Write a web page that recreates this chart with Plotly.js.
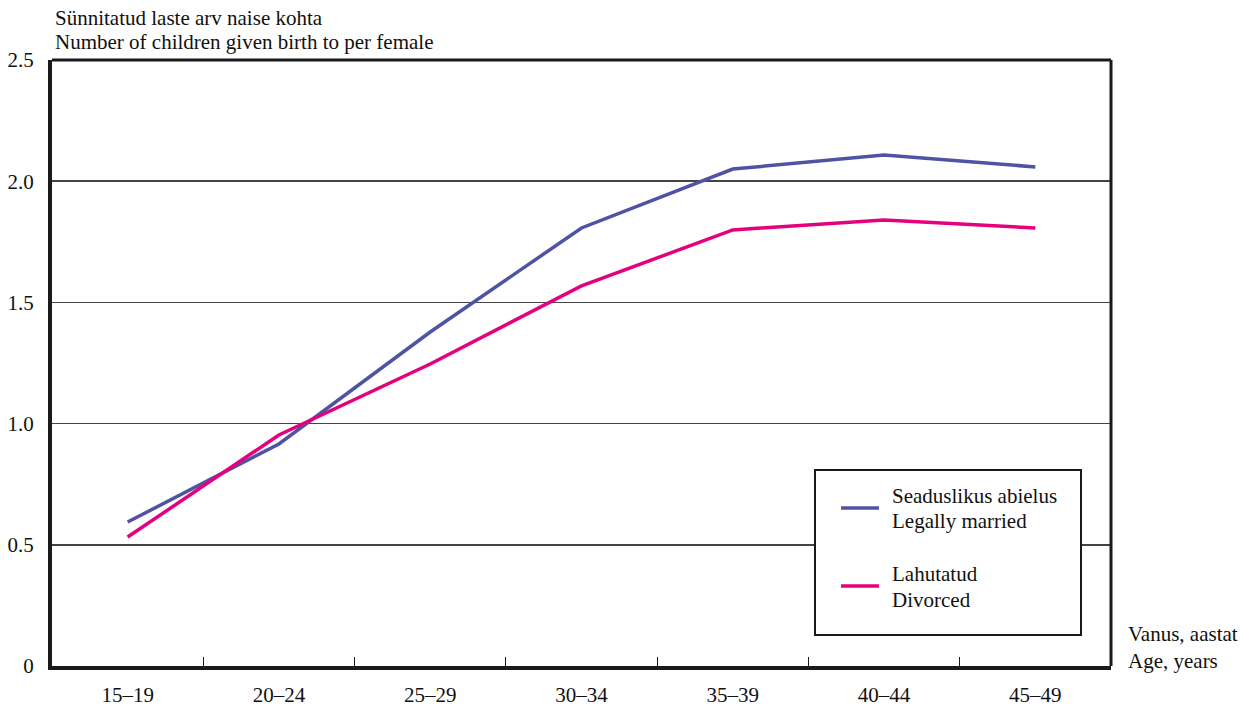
<!DOCTYPE html>
<html>
<head>
<meta charset="utf-8">
<script src="https://cdn.plot.ly/plotly-3.0.1.min.js"></script>
<style>html,body{margin:0;padding:0;background:#fff;}#chart{width:1256px;height:707px;}</style>
</head>
<body>
<div id="chart"></div>
<script>
const ageGroups = ['15–19','20–24','25–29','30–34','35–39','40–44','45–49'];
const married = [0.594, 0.916, 1.378, 1.807, 2.05, 2.108, 2.059];
const divorced = [0.532, 0.953, 1.246, 1.568, 1.799, 1.84, 1.807];
const yTicks = [0, 0.5, 1.0, 1.5, 2.0, 2.5];
const yTickLabels = ['0', '0.5', '1.0', '1.5', '2.0', '2.5'];
const seriesLabelsEt = ['Seaduslikus abielus', 'Lahutatud'];
const seriesLabelsEn = ['Legally married', 'Divorced'];
const colors = ['#4f53a3', '#e5007e'];

const FONT = 'Liberation Serif, Times New Roman, serif';
const FS = 21;
const TXT = {family: FONT, size: FS, color: '#111'};

const traces = [
  {x: ageGroups, y: married, type: 'scatter', mode: 'lines', name: seriesLabelsEn[0],
   line: {color: colors[0], width: 3.5}},
  {x: ageGroups, y: divorced, type: 'scatter', mode: 'lines', name: seriesLabelsEn[1],
   line: {color: colors[1], width: 3.5}}
];

// pixel -> paper helpers for plot area (l=52, r=1111, t=60, b=666)
const px = v => (v - 52) / 1059;
const py = v => (666 - v) / 606;

function label(text, x, y) {
  return {text: text, xref: 'paper', yref: 'paper', x: px(x), y: py(y),
          xanchor: 'left', yanchor: 'middle', align: 'left', showarrow: false, font: TXT};
}

const layout = {
  width: 1256, height: 707,
  margin: {l: 52, r: 145, t: 60, b: 41},
  paper_bgcolor: '#fff', plot_bgcolor: '#fff',
  font: TXT,
  showlegend: false,
  xaxis: {
    type: 'category', range: [-0.5, 6.5],
    showline: true, linecolor: '#1a1a1a', linewidth: 4,
    ticks: 'inside', tickson: 'boundaries', ticklen: 9, tickwidth: 1, tickcolor: '#1a1a1a',
    ticklabelstandoff: 7,
    showgrid: false, zeroline: false,
    tickfont: TXT
  },
  yaxis: {
    range: [0, 2.5], tickvals: yTicks, ticktext: yTickLabels,
    showline: true, linecolor: '#1a1a1a', linewidth: 4,
    ticks: '', ticklabelstandoff: 10,
    showgrid: true, gridcolor: '#444', gridwidth: 1.5, zeroline: false,
    tickfont: TXT
  },
  shapes: [
    {type: 'line', xref: 'paper', yref: 'paper', x0: 0, x1: 1, y0: 1, y1: 1, line: {color: '#1a1a1a', width: 3}},
    {type: 'line', xref: 'paper', yref: 'paper', x0: 1, x1: 1, y0: 0, y1: 1, line: {color: '#1a1a1a', width: 3}},
    {type: 'rect', xref: 'paper', yref: 'paper', x0: px(815), x1: px(1081), y0: py(635), y1: py(470),
     fillcolor: '#fff', line: {color: '#1a1a1a', width: 2}},
    {type: 'line', xref: 'paper', yref: 'paper', x0: px(841), x1: px(879),
     y0: py(508), y1: py(508), line: {color: colors[0], width: 3.5}},
    {type: 'line', xref: 'paper', yref: 'paper', x0: px(841), x1: px(879),
     y0: py(586), y1: py(586), line: {color: colors[1], width: 3.5}}
  ],
  annotations: [
    label('Sünnitatud laste arv naise kohta', 53, 18),
    label('Number of children given birth to per female', 53, 42),
    label('Vanus, aastat', 1126, 634),
    label('Age, years', 1126, 661),
    label(seriesLabelsEt[0], 890, 496),
    label(seriesLabelsEn[0], 890, 521),
    label(seriesLabelsEt[1], 890, 574),
    label(seriesLabelsEn[1], 890, 600)
  ]
};

Plotly.newPlot('chart', traces, layout, {displayModeBar: false, staticPlot: true});
</script>
</body>
</html>
